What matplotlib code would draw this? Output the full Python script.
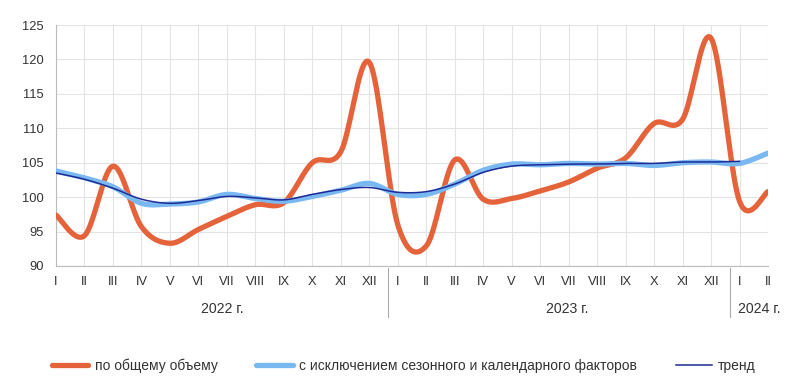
import numpy as np
import matplotlib.pyplot as plt
from matplotlib.lines import Line2D

plt.rcParams['font.family'] = ['Liberation Sans', 'DejaVu Sans']

months = ['I', 'II', 'III', 'IV', 'V', 'VI', 'VII', 'VIII', 'IX', 'X', 'XI', 'XII']
tick_labels = months + months + ['I', 'II']
years = ['2022 г.', '2023 г.', '2024 г.']

total = [97.4, 94.4, 104.5, 95.7, 93.3, 95.3, 97.2, 98.9, 99.2, 105.0, 106.6, 119.6,
         96.0, 92.9, 105.4, 99.7, 99.8, 100.9, 102.2, 104.2, 105.7, 110.7, 111.3, 123.1,
         99.4, 100.8]
seasonal = [103.8, 102.8, 101.5, 99.1, 99.0, 99.3, 100.4, 99.8, 99.4, 100.1, 101.0, 102.0,
            100.4, 100.4, 101.9, 103.9, 104.8, 104.7, 104.9, 104.8, 104.9, 104.6, 105.0, 105.1,
            104.9, 106.4]
trend = [103.5, 102.6, 101.3, 99.7, 99.1, 99.5, 100.1, 99.9, 99.6, 100.4, 101.1, 101.4,
         100.7, 100.8, 101.9, 103.6, 104.5, 104.7, 104.8, 104.8, 104.9, 104.9, 105.1, 105.1,
         105.2]


def smooth(y, n=20):
    # сглаживание как в Excel (Catmull-Rom)
    x = np.arange(len(y), dtype=float)
    y = np.asarray(y, dtype=float)
    xs, ys = [], []
    for i in range(len(y) - 1):
        i0, i3 = max(i - 1, 0), min(i + 2, len(y) - 1)
        t = np.linspace(0, 1, n, endpoint=False)
        for arr, out in ((x, xs), (y, ys)):
            p0, p1, p2, p3 = arr[i0], arr[i], arr[i + 1], arr[i3]
            c1 = p1 + (p2 - p0) / 6
            c2 = p2 - (p3 - p1) / 6
            out.extend((1 - t) ** 3 * p1 + 3 * (1 - t) ** 2 * t * c1 + 3 * (1 - t) * t ** 2 * c2 + t ** 3 * p2)
    xs.append(x[-1])
    ys.append(y[-1])
    return np.array(xs), np.array(ys)


c_total = '#E5633A'
c_seas = '#7AB8F2'
c_trend = '#1E2B96'

fig = plt.figure(figsize=(8, 3.86), dpi=100)
ax = fig.add_axes([0.07, 0.311, 0.89, 0.624])

ax.plot(*smooth(total), color=c_total, lw=3.8, solid_capstyle='round', zorder=3)
ax.plot(*smooth(seasonal), color=c_seas, lw=3.8, solid_capstyle='round', zorder=4)
ax.plot(*smooth(trend), color=c_trend, lw=1.1, zorder=5)

ax.set_xlim(0, len(tick_labels) - 1)
ax.set_ylim(90, 125)
ax.set_yticks(range(90, 126, 5))
ax.set_xticks(range(len(tick_labels)))
ax.set_xticklabels(tick_labels)
ax.tick_params(length=0, labelsize=9.3, colors='#333333', pad=7)
ax.tick_params(axis='y', pad=9)
ax.grid(color='#E3E3E3', lw=0.8)
ax.set_axisbelow(True)
for s in ['top', 'right']:
    ax.spines[s].set_visible(False)
ax.spines['left'].set_color('#BBBBBB')
ax.spines['bottom'].set_color('#BBBBBB')

# разделители лет
for xs in [11.66, 23.66]:
    ax.plot([xs, xs], [-0.01, -0.21], transform=ax.get_xaxis_transform(),
            color='#AAAAAA', lw=0.8, clip_on=False)
for xc, name in zip([5.83, 17.95, 24.7], years):
    ax.text(xc, -0.18, name, transform=ax.get_xaxis_transform(), ha='center', va='center',
            fontsize=10.2, color='#333333')

handles = [Line2D([], [], color=c_total, lw=3.8, solid_capstyle='round'),
           Line2D([], [], color=c_seas, lw=3.8, solid_capstyle='round'),
           Line2D([], [], color=c_trend, lw=1.1)]
labels = ['по общему объему', 'с исключением сезонного и календарного факторов', 'тренд']
fig.legend(handles, labels, loc='center', bbox_to_anchor=(0.505, 0.052), ncol=3, frameon=False,
           fontsize=10, handlelength=2.6, columnspacing=2.8, handletextpad=0.45,
           labelcolor='#333333')

fig.savefig('out.png', dpi=100)
